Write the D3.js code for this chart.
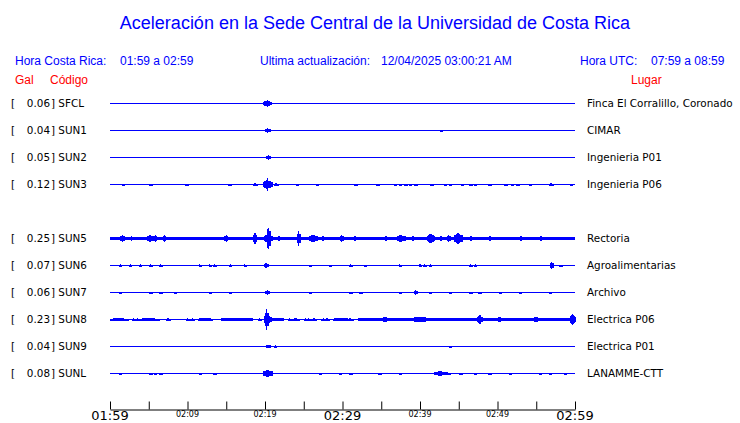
<!DOCTYPE html>
<html><head><meta charset="utf-8">
<script src="https://cdn.jsdelivr.net/npm/d3@7"></script>
<style>
html,body{margin:0;padding:0;background:#fff;}
svg{display:block;}
</style></head>
<body>
<svg id="chart" width="740" height="423"></svg>
<script>
// ---------- data ----------
const codes  = ["SFCL","SUN1","SUN2","SUN3","SUN4","SUN5","SUN6","SUN7","SUN8","SUN9","SUNL"];
const peaks  = [0.06, 0.04, 0.05, 0.12, null, 0.25, 0.07, 0.06, 0.23, 0.04, 0.08];
const places = ["Finca El Corralillo, Coronado","CIMAR","Ingenieria P01","Ingenieria P06","",
                "Rectoria","Agroalimentarias","Archivo","Electrica P06","Electrica P01","LANAMME-CTT"];
// baseline noise level (relative amplitude)
const noise  = [0,0,0,0,null,0.14,0,0,0.07,0,0];
// events: [minute after 01:59, relative amplitude, duration (min)]
const evSFCL = [[20.2,0.22,0.9],[20.3,0.3,0.3]];
const evSUN1 = [[20.3,0.18,0.5],[42.7,0.07,0.2]];
const evSUN2 = [[20.4,0.18,0.4]];
const evSUN3 = [[1.7,0.08,0.2],[5.2,0.08,0.2],[9.9,0.08,0.2],[15.4,0.08,0.2],[18.7,0.12,0.4],
  [20.3,0.35,1.1],[20.3,0.5,0.3],[21.3,0.1,0.2],[21.5,0.1,0.2],[24.1,0.08,0.2],[26.7,0.08,0.2],
  [31.7,0.08,0.2],[34.5,0.08,0.2],[36.8,0.08,0.2],[37.4,0.08,0.2],[38.1,0.08,0.2],[38.7,0.08,0.2],
  [39.4,0.08,0.2],[41.5,0.08,0.2],[43.2,0.08,0.2],[43.9,0.08,0.2],[45.4,0.08,0.2],[46.5,0.08,0.2],
  [47.1,0.08,0.2],[49.0,0.08,0.2],[51.0,0.08,0.2],[51.9,0.08,0.2],[52.6,0.08,0.2],[54.2,0.08,0.2],
  [56.8,0.1,0.3],[57.0,0.1,0.3],[59.5,0.08,0.2]];
const evSUN4 = [];
const evSUN5 = [[1.6,0.25,0.7],[2.8,0.2,0.4],[4.3,0.15,0.3],[5.2,0.3,0.6],[5.9,0.25,0.4],[7.0,0.25,0.5],
  [8.4,0.12,0.4],[9.8,0.15,0.6],[15.0,0.25,0.6],[16.5,0.15,0.5],[17.5,0.1,0.3],[18.3,0.15,0.3],
  [18.7,0.55,0.25],[20.4,1.0,0.25],[20.4,0.35,1.0],[21.8,0.2,0.6],[24.3,0.6,0.25],[24.3,0.2,0.5],
  [25.2,0.15,0.3],[26.2,0.3,0.9],[27.5,0.2,0.5],[29.9,0.3,0.3],[31.6,0.2,0.6],[33.0,0.15,0.4],
  [34.3,0.15,0.4],[35.6,0.2,0.5],[37.5,0.3,0.9],[39.1,0.2,0.5],[41.4,0.4,0.8],[42.7,0.2,0.4],
  [43.7,0.25,0.6],[44.9,0.45,0.8],[46.6,0.2,0.4],[47.5,0.15,0.4],[49.0,0.2,0.5],[50.3,0.15,0.4],
  [51.9,0.15,0.4],[53.0,0.2,0.4],[54.3,0.15,0.4],[55.6,0.25,0.4],[58.1,0.15,0.4],[59.5,0.15,0.4]];
const evSUN6 = [[1.3,0.1,0.2],[2.6,0.1,0.2],[3.9,0.1,0.2],[5.2,0.1,0.2],[6.5,0.1,0.2],[11.6,0.1,0.2],
  [12.9,0.1,0.2],[13.5,0.1,0.2],[15.5,0.1,0.2],[17.4,0.1,0.2],[20.1,0.2,0.4],[25.8,0.08,0.2],
  [28.4,0.08,0.2],[31.0,0.1,0.2],[32.9,0.08,0.2],[37.4,0.1,0.2],[40.0,0.1,0.2],[40.6,0.1,0.2],
  [41.3,0.1,0.2],[46.5,0.1,0.2],[47.1,0.1,0.2],[57.0,0.3,0.3],[58.1,0.08,0.2]];
const evSUN7 = [[1.3,0.08,0.2],[5.2,0.08,0.2],[6.5,0.08,0.2],[8.4,0.08,0.2],[12.9,0.08,0.2],[15.5,0.08,0.2],
  [20.3,0.2,0.4],[25.8,0.08,0.2],[31.0,0.08,0.2],[32.3,0.08,0.2],[37.4,0.08,0.2],[39.4,0.2,0.3],
  [41.3,0.08,0.2],[43.9,0.08,0.2],[46.5,0.08,0.2],[47.7,0.08,0.2],[50.3,0.08,0.2],[52.9,0.08,0.2],[56.8,0.08,0.2]];
const evSUN8 = [[1.1,0.11,2.2],[3.0,0.1,0.3],[3.5,0.1,0.3],[5.0,0.11,2.5],[7.5,0.1,0.4],[10.0,0.1,0.3],
  [10.6,0.1,0.3],[12.3,0.13,1.7],[14.5,0.1,0.3],[16.3,0.14,3.9],[19.3,0.1,0.3],[20.2,0.85,0.25],
  [20.3,0.4,0.8],[21.4,0.15,1.7],[23.2,0.1,0.3],[23.9,0.1,0.8],[25.2,0.1,0.3],[25.6,0.1,0.3],
  [26.3,0.1,0.5],[27.5,0.1,0.3],[28.0,0.1,0.3],[29.8,0.13,1.9],[31.0,0.1,0.5],[46.0,0.14,28.0],
  [35.5,0.2,1.0],[40.0,0.22,2.5],[47.7,0.4,0.5],[50.3,0.2,0.8],[55.0,0.2,1.0],[59.7,0.4,0.6]];
const evSUN9 = [[20.4,0.15,0.3],[21.3,0.1,0.2],[43.9,0.06,0.2]];
const evSUNL = [[1.3,0.08,0.2],[5.2,0.08,0.2],[5.8,0.08,0.2],[6.5,0.08,0.2],[11.6,0.08,0.2],[13.5,0.08,0.2],
  [20.3,0.28,1.0],[27.1,0.08,0.2],[29.7,0.08,0.2],[31.0,0.08,0.2],[34.8,0.08,0.2],[37.4,0.08,0.2],
  [42.6,0.18,1.5],[43.6,0.1,0.3],[45.2,0.08,0.2],[47.1,0.08,0.2],[49.0,0.08,0.2],[51.6,0.08,0.2],
  [55.5,0.08,0.2],[56.8,0.08,0.2],[58.7,0.08,0.2]];
const events = [evSFCL,evSUN1,evSUN2,evSUN3,evSUN4,evSUN5,evSUN6,evSUN7,evSUN8,evSUN9,evSUNL];

const tickMinutes = [0,5,10,15,20,25,30,35,40,45,50,55,60];
const labelMinutes = [0,10,20,30,40,50,60];
const tickLabels = ["01:59","02:09","02:19","02:29","02:39","02:49","02:59"];
const bigLabels = ["01:59","02:29","02:59"];

const titleText = "Aceleración en la Sede Central de la Universidad de Costa Rica";
const headerLocal = ["Hora Costa Rica:", "01:59 a 02:59"];
const headerUpdate = ["Ultima actualización:", "12/04/2025 03:00:21 AM"];
const headerUTC = ["Hora UTC:", "07:59 a 08:59"];

// ---------- drawing ----------
const svg = d3.select("#chart");
const BLUE = "#0000ff", RED = "#ff0000";
const x = d3.scaleLinear().domain([0,60]).range([110,575]);
const y = d3.scaleBand().domain(codes).range([90,386]).paddingInner(0);
const rowH = y.bandwidth();
const amp = d3.scaleLinear().domain([0,1]).range([0,13]);
const cy = c => Math.round(y(c) + rowH/2);

const sans = "'Liberation Sans', Arial, sans-serif";
const dj = "'DejaVu Sans', sans-serif";
const LFS = 10.4;

svg.append("text").attr("x",375).attr("y",29).attr("text-anchor","middle")
  .attr("font-family",sans).attr("font-size",18).attr("fill",BLUE).text(titleText);

const hdr = (t,xp,yp,col) => svg.append("text").attr("x",xp).attr("y",yp)
  .attr("font-family",sans).attr("font-size",12).attr("fill",col).text(t);
hdr(headerLocal[0],15,65,BLUE); hdr(headerLocal[1],120,65,BLUE);
hdr(headerUpdate[0],260,65,BLUE); hdr(headerUpdate[1],381,65,BLUE);
hdr(headerUTC[0],580,65,BLUE); hdr(headerUTC[1],651,65,BLUE);
hdr("Gal",15,84,RED); hdr("Código",50,84,RED); hdr("Lugar",631,84,RED);

// envelope path for one event: one vertical stroke per pixel column
function eventPath(d, yc) {
  const x0 = Math.max(x(0), x(d[0]-d[2]/2)), x1 = Math.min(x(60), x(d[0]+d[2]/2));
  const xm = x(d[0]);
  const half = Math.max(1, (x1-x0)/2);
  let p = "";
  const a0 = Math.floor(x0), a1 = Math.max(a0+1, Math.ceil(x1));
  for (let px = a0; px <= a1; px++) {
    const u = Math.min(1, Math.abs(px + 0.5 - xm) / half);
    const h = Math.max(1, amp(d[1]) * (1 - 0.45*u));
    p += `M${px+0.5},${yc+0.5-h}V${yc+0.5+h}`;
  }
  return p;
}

codes.forEach((c,i)=>{
  if (peaks[i] === null) return;
  const yc = cy(c);
  const g = svg.append("g");
  g.append("text").attr("x",11).attr("y",yc+4).attr("font-family",dj).attr("font-size",LFS).text("[");
  g.append("text").attr("x",50).attr("y",yc+4).attr("text-anchor","end").attr("font-family",dj).attr("font-size",LFS).text(peaks[i].toFixed(2));
  g.append("text").attr("x",51).attr("y",yc+4).attr("font-family",dj).attr("font-size",LFS).text("] " + c);
  g.append("text").attr("x",587).attr("y",yc+4).attr("font-family",dj).attr("font-size",LFS).text(places[i]);
  // baseline
  g.append("line").attr("x1",x(0)).attr("x2",x(60)).attr("y1",yc+0.5).attr("y2",yc+0.5)
    .attr("stroke",BLUE).attr("stroke-width",1).attr("shape-rendering","crispEdges");
  if (noise[i] > 0) {
    const h = amp(noise[i]);
    g.append("rect").attr("x",x(0)).attr("width",x(60)-x(0)).attr("y",yc+0.5-h).attr("height",2*h)
      .attr("fill",BLUE).attr("shape-rendering","crispEdges");
  }
  g.selectAll("path.ev").data(events[i]).join("path").attr("class","ev")
    .attr("d",d=>eventPath(d,yc))
    .attr("fill","none").attr("stroke",BLUE).attr("stroke-width",1).attr("shape-rendering","crispEdges");
});

// axis
const axis = d3.axisTop(x).tickValues(tickMinutes).tickSizeInner(8).tickSizeOuter(0).tickFormat("");
const ax = svg.append("g").attr("transform","translate(0,409.5)").call(axis);
ax.select(".domain").attr("stroke","#000");
ax.selectAll(".tick line").attr("stroke","#000");
svg.selectAll("text.tl").data(labelMinutes).join("text").attr("class","tl")
  .attr("x",d=>x(d)).attr("text-anchor","middle")
  .attr("y",(d,i)=>bigLabels.includes(tickLabels[i]) ? 420 : 417)
  .attr("font-family",dj)
  .attr("font-size",(d,i)=>bigLabels.includes(tickLabels[i]) ? 13 : 8)
  .text((d,i)=>tickLabels[i]);
</script>
</body></html>
